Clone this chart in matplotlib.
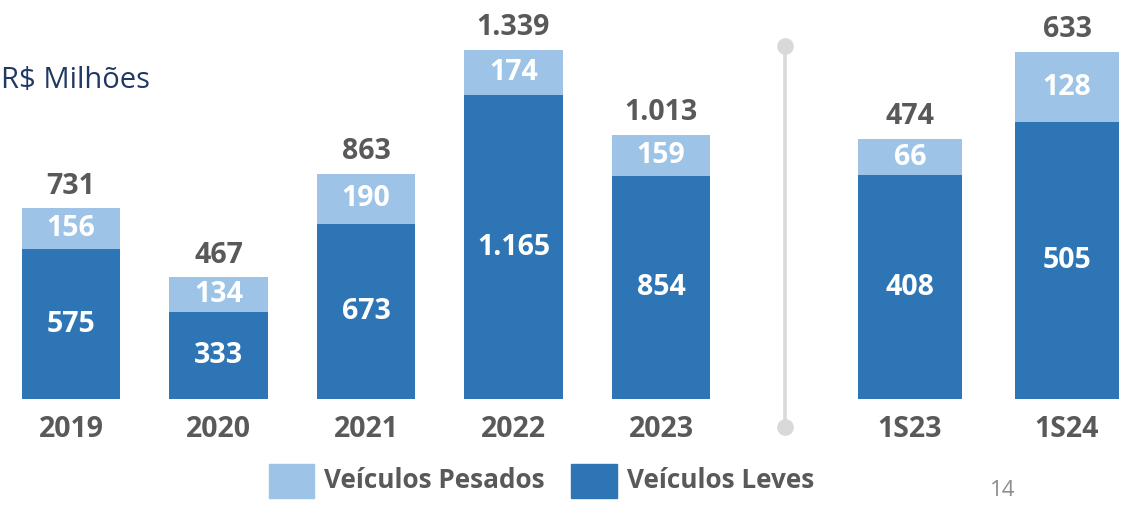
import matplotlib.pyplot as plt
from matplotlib.lines import Line2D
from matplotlib.patches import Rectangle

# annual data (R$ millions)
years = ["2019", "2020", "2021", "2022", "2023"]
leves_year = [575, 333, 673, 1165, 854]
pesados_year = [156, 134, 190, 174, 159]
total_year = [731, 467, 863, 1339, 1013]

# semester data
semesters = ["1S23", "1S24"]
leves_sem = [408, 505]
pesados_sem = [66, 128]
total_sem = [474, 633]

LIGHT = "#9DC3E6"
DARK = "#2E75B6"
GRAY = "#595959"
FONT = "Open Sans"
FS = 20.5

W, H = 1127, 505


def fmt(v):
    return f"{v:,}".replace(",", ".")


def draw_group(ax, labels, leves, pesados, totals):
    x = list(range(len(labels)))
    ax.bar(x, leves, width=0.665, color=DARK)
    ax.bar(x, pesados, bottom=leves, width=0.665, color=LIGHT)
    for i in x:
        ax.text(i, leves[i] / 2, fmt(leves[i]), ha="center", va="center",
                color="white", fontsize=FS, fontweight="bold", family=FONT)
        ax.text(i, leves[i] + pesados[i] / 2, fmt(pesados[i]), ha="center", va="center",
                color="white", fontsize=FS, fontweight="bold", family=FONT)
        ax.annotate(fmt(totals[i]), (i, totals[i]), xytext=(0, 16),
                    textcoords="offset points", ha="center", va="center",
                    color=GRAY, fontsize=FS, fontweight="bold", family=FONT)
        ax.annotate(labels[i], (i, 0), xytext=(0, -22),
                    textcoords="offset points", ha="center", va="center",
                    color=GRAY, fontsize=FS, fontweight="bold", family=FONT)
    ax.axis("off")


fig = plt.figure(figsize=(W / 100, H / 100), dpi=100)

base = 106 / H
# left axes: years
ax1 = fig.add_axes([0, base, 740 / W, 1 - base])
draw_group(ax1, years, leves_year, pesados_year, total_year)
ax1.set_xlim(-71 / 147.5, (740 - 71) / 147.5)
ax1.set_ylim(0, 399 / (349 / 1339))

# right axes: semesters
ax2 = fig.add_axes([760 / W, base, (W - 760) / W, 1 - base])
draw_group(ax2, semesters, leves_sem, pesados_sem, total_sem)
ax2.set_xlim((760 - 910) / 157, (W - 910) / 157)
ax2.set_ylim(0, 399 / (347 / 633))

# divider
fig.add_artist(Line2D([785 / W, 785 / W], [1 - 46 / H, 1 - 427 / H], color="#D9D9D9",
                      lw=2.6, marker="o", markersize=11, solid_capstyle="butt"))

# unit label
fig.text(1 / W, 1 - 80 / H, "R$ Milhões", color="#1F3864", fontsize=21,
         family=FONT, va="center", ha="left")

# legend
fig.add_artist(Rectangle((269 / W, 1 - 498 / H), 45 / W, 34 / H, color=LIGHT,
                         transform=fig.transFigure))
fig.text(324 / W, 1 - 481 / H, "Veículos Pesados", color=GRAY, fontsize=18.8,
         fontweight="bold", family=FONT, va="center")
fig.add_artist(Rectangle((571 / W, 1 - 498 / H), 46 / W, 34 / H, color=DARK,
                         transform=fig.transFigure))
fig.text(627 / W, 1 - 481 / H, "Veículos Leves", color=GRAY, fontsize=18.8,
         fontweight="bold", family=FONT, va="center")

# page number
fig.text(990 / W, 1 - 491 / H, "14", color="#8C8C8C", fontsize=16, family=FONT,
         va="center")

fig.savefig("out.png", dpi=100)
